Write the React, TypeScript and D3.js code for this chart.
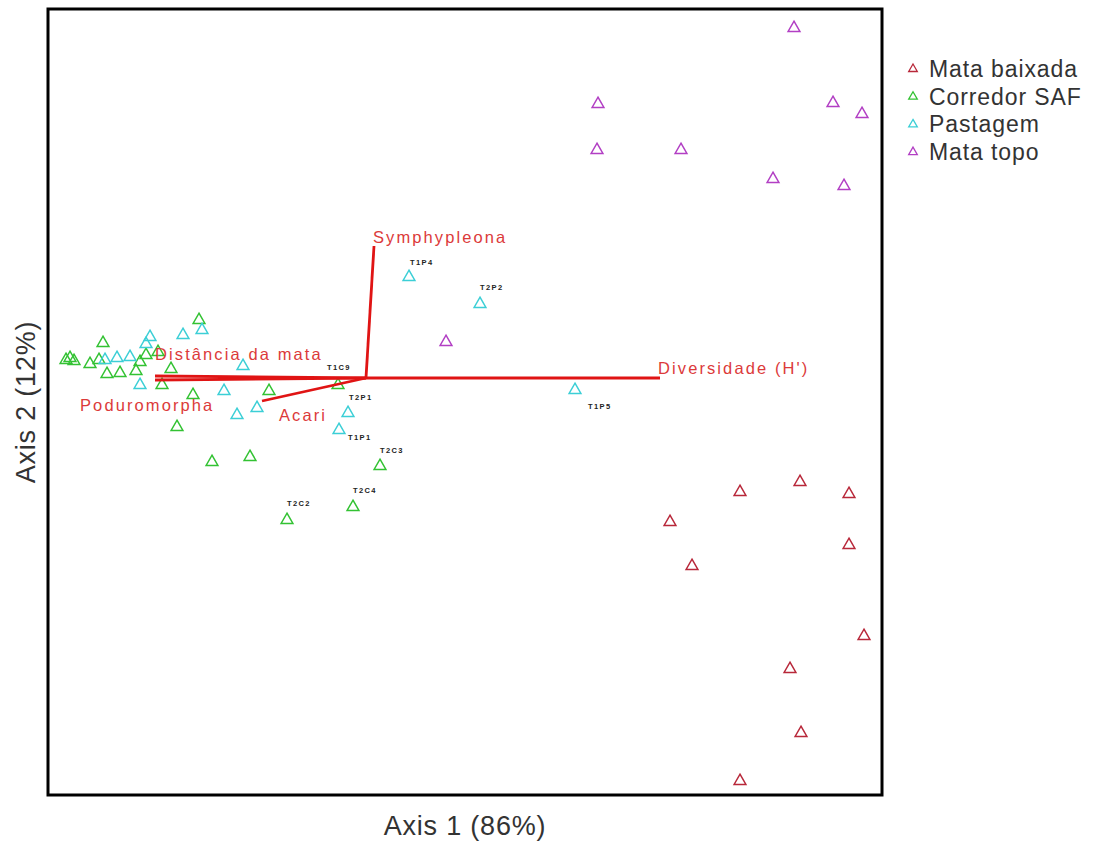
import React from "react";
import * as d3 from "d3";

// Site scores on the two ordination axes, per land-use group
const mataBaixadaX = [3.74, 4.34, 4.83, 3.04, 4.83, 3.26, 4.98, 4.24, 4.35, 3.74];
const mataBaixadaY = [-1.14, -1.04, -1.16, -1.44, -1.67, -1.88, -2.58, -2.91, -3.55, -4.03];

const corredorX = [-3.0, -2.96, -2.92, -2.76, -2.63, -2.67, -2.59, -2.46, -2.3, -2.26, -2.2, -2.08, -1.95, -2.04, -1.73, -1.89, -1.67, -1.54, -1.16, -0.97, -0.28, 0.14, -0.13, -0.79];
const corredorY = [0.18, 0.2, 0.17, 0.14, 0.35, 0.18, 0.04, 0.05, 0.07, 0.16, 0.23, 0.26, 0.09, -0.07, -0.17, -0.49, 0.58, -0.84, -0.79, -0.13, -0.07, -0.88, -1.29, -1.42];
const corredorIds = ["", "", "", "", "", "", "", "", "", "", "", "", "", "", "", "", "", "", "", "", "T1C9", "T2C3", "T2C4", "T2C2"];

const pastagemX = [-2.61, -2.49, -2.36, -2.16, -2.2, -1.83, -1.64, -1.23, -2.26, -1.42, -1.29, -1.09, -0.18, -0.27, 0.43, 1.14, 2.09];
const pastagemY = [0.18, 0.2, 0.21, 0.41, 0.34, 0.43, 0.48, 0.12, -0.07, -0.13, -0.37, -0.3, -0.35, -0.52, 1.01, 0.74, -0.12];
const pastagemIds = ["", "", "", "", "", "", "", "", "", "", "", "", "T2P1", "T1P1", "T1P4", "T2P2", "T1P5"];

const mataTopoX = [4.28, 2.32, 4.67, 4.96, 2.31, 3.15, 4.07, 4.78, 0.8];
const mataTopoY = [3.5, 2.74, 2.75, 2.64, 2.28, 2.28, 1.99, 1.92, 0.36];

// Environmental / taxon vectors (biplot arrows)
const vectorNames = ["Symphypleona", "Diversidade (H')", "Distância da mata", "Poduromorpha", "Acari"];
const vectorX = [0.08, 2.94, -2.11, -2.11, -1.04];
const vectorY = [1.32, 0.0, 0.02, -0.02, -0.23];

const groupNames = ["Mata baixada", "Corredor SAF", "Pastagem", "Mata topo"];
const axisTitles = ["Axis 1 (86%)", "Axis 2 (12%)"];

// Presentation
const groupColors = ["#b8283a", "#33c233", "#3ccfd6", "#b23fc4"];
const labelOffsets: Record<string, [number, number]> = {
  T1C9: [-11, -15], T2C3: [0, -13], T2C4: [0, -14], T2C2: [0, -14],
  T2P1: [1, -13], T1P1: [9, 10], T1P4: [1, -12], T2P2: [0, -14], T1P5: [13, 19],
};
const vectorLabelOffsets: [number, number][] = [
  [-1, -3], [-2, -4], [0, -16], [-75, 31], [17, 20],
];

const W = 1101;
const H = 841;
const plot = { left: 48, right: 882, top: 9, bottom: 795 };

export default function App() {
  const x = d3.scaleLinear().domain([-3.18, 5.16]).range([plot.left, plot.right]);
  const y = d3.scaleLinear().domain([-4.17, 3.69]).range([plot.bottom, plot.top]);
  const tri = d3.symbol(d3.symbolTriangle, 60)() as string;
  const triSmall = d3.symbol(d3.symbolTriangle, 32)() as string;

  const groups = [
    { xs: mataBaixadaX, ys: mataBaixadaY, ids: [] as string[] },
    { xs: corredorX, ys: corredorY, ids: corredorIds },
    { xs: pastagemX, ys: pastagemY, ids: pastagemIds },
    { xs: mataTopoX, ys: mataTopoY, ids: [] as string[] },
  ];

  const font = "'Liberation Sans', Arial, sans-serif";

  return (
    <svg width={W} height={H} style={{ position: "absolute", left: 0, top: 0, background: "#fff" }} fontFamily={font}>
      <rect x={0} y={0} width={W} height={H} fill="#fff" />

      {/* site points */}
      {groups.map((g, gi) => (
        <g key={gi}>
          {g.xs.map((xv, i) => (
            <path
              key={i}
              d={tri}
              transform={`translate(${x(xv)},${y(g.ys[i])})`}
              fill="none"
              stroke={groupColors[gi]}
              strokeWidth={1.5}
            />
          ))}
          {g.ids.map((id, i) =>
            id ? (
              <text
                key={`l${i}`}
                x={x(g.xs[i]) + labelOffsets[id][0]}
                y={y(g.ys[i]) + labelOffsets[id][1]}
                fontSize={7.5}
                fontWeight="bold"
                letterSpacing={1.4}
                fill="#222"
              >
                {id}
              </text>
            ) : null
          )}
        </g>
      ))}

      {/* biplot vectors */}
      {vectorNames.map((n, i) => (
        <line
          key={n}
          x1={x(0)}
          y1={y(0)}
          x2={x(vectorX[i])}
          y2={y(vectorY[i])}
          stroke="#e01414"
          strokeWidth={2.8}
        />
      ))}
      {vectorNames.map((n, i) => (
        <text
          key={`t${n}`}
          x={x(vectorX[i]) + vectorLabelOffsets[i][0]}
          y={y(vectorY[i]) + vectorLabelOffsets[i][1]}
          fontSize={16.5}
          letterSpacing={2.1}
          fill="#dc3a3a"
        >
          {n}
        </text>
      ))}

      {/* frame */}
      <rect
        x={plot.left}
        y={plot.top}
        width={plot.right - plot.left}
        height={plot.bottom - plot.top}
        fill="none"
        stroke="#000"
        strokeWidth={3}
      />

      {/* axis titles */}
      <text x={(plot.left + plot.right) / 2} y={835} textAnchor="middle" fontSize={27} letterSpacing={0.8} fill="#333">
        {axisTitles[0]}
      </text>
      <text
        transform={`translate(35,${(plot.top + plot.bottom) / 2}) rotate(-90)`}
        textAnchor="middle"
        fontSize={27}
        letterSpacing={0.8}
        fill="#333"
      >
        {axisTitles[1]}
      </text>

      {/* legend */}
      {groupNames.map((n, i) => (
        <g key={n} transform={`translate(913,${69 + i * 27.7})`}>
          <path d={triSmall} fill="none" stroke={groupColors[i]} strokeWidth={1.3} />
          <text x={16} y={8} fontSize={23} letterSpacing={0.9} fill="#333">
            {n}
          </text>
        </g>
      ))}
    </svg>
  );
}
